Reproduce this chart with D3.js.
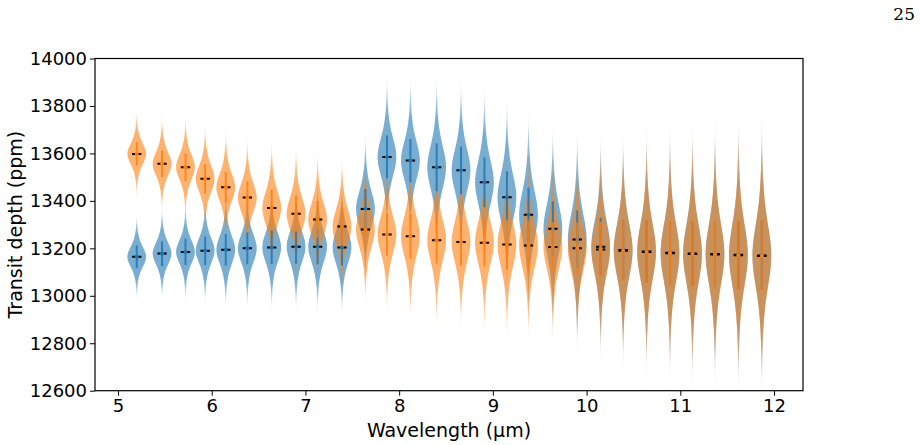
<!DOCTYPE html>
<meta charset="utf-8">
<head>
  <style>
    body { margin: 0; background: #fff; }
    svg { display: block; font-family: "DejaVu Sans", sans-serif; }
  </style>
</head>
<body>
  <svg id="viz" width="921" height="445"></svg>
  <script src="https://d3js.org/d3.v7.min.js"></script>
  <script>
    // wavelength bins (µm)
    var wavelengths = [5.20, 5.47, 5.72, 5.93, 6.15, 6.38, 6.64, 6.90, 7.13, 7.39,
      7.64, 7.87, 8.12, 8.40, 8.66, 8.91, 9.15, 9.38, 9.64, 9.90,
      10.15, 10.39, 10.64, 10.89, 11.13, 11.37, 11.62, 11.87];

    // blue series: median transit depth and 1-sigma (ppm)
    var blueMedian = [13164, 13178, 13185, 13190, 13194, 13200, 13204, 13207, 13207, 13204,
      13366, 13585, 13570, 13542, 13529, 13478, 13415, 13341, 13282, 13237,
      13207, 13193, 13187, 13181, 13178, 13176, 13173, 13170];
    var blueSigma = [48, 52, 55, 60, 66, 67, 70, 72, 74, 76,
      84, 90, 91, 101, 100, 105, 110, 114, 115, 122,
      122, 125, 130, 134, 137, 140, 144, 147];

    // orange series
    var orangeMedian = [13598, 13556, 13542, 13493, 13457, 13414, 13370, 13346, 13322, 13292,
      13279, 13258, 13251, 13234, 13227, 13224, 13216, 13212, 13206, 13200,
      13195, 13190, 13185, 13179, 13176, 13174, 13171, 13168];
    var orangeSigma = [49, 55, 58, 62, 65, 68, 77, 77, 77, 80,
      84, 88, 95, 98, 98, 101, 105, 105, 105, 108,
      118, 126, 134, 137, 140, 143, 148, 151];

    var xTicks = [5, 6, 7, 8, 9, 10, 11, 12];
    var yTicks = [12600, 12800, 13000, 13200, 13400, 13600, 13800, 14000];

    function drawChart() {
      var left = 95, right = 803, plotTop = 58.5, plotBottom = 390.7;
      var violinWidth = 0.2;

      var svg = d3.select('#viz');
      var defs = svg.append('defs');

      var x = d3.scaleLinear().domain([4.7546, 12.309]).range([left, right]);
      var y = d3.scaleLinear().domain([12600, 14000]).range([plotBottom, plotTop]);

      var series = [
        { name: 'blue', color: '#1f77b4', median: blueMedian, sigma: blueSigma },
        { name: 'orange', color: '#ff7f0e', median: orangeMedian, sigma: orangeSigma }
      ];

      defs.append('clipPath').attr('id', 'clip')
        .append('rect')
        .attr('x', left).attr('y', plotTop)
        .attr('width', right - left).attr('height', plotBottom - plotTop);

      // tails of the violins fade out like thin antialiased slivers
      var fadeStops = [[0, 0], [0.1, 0.08], [0.2, 0.45], [0.28, 0.6], [0.72, 0.6], [0.8, 0.45], [0.9, 0.08], [1, 0]];
      series.forEach(function (s) {
        defs.append('linearGradient')
          .attr('id', 'fade-' + s.name)
          .attr('x1', 0).attr('y1', 0).attr('x2', 0).attr('y2', 1)
          .selectAll('stop')
          .data(fadeStops)
          .join('stop')
          .attr('offset', d => d[0])
          .attr('stop-color', s.color)
          .attr('stop-opacity', d => d[1]);
      });

      var plot = svg.append('g').attr('clip-path', 'url(#clip)');

      // heavy-tailed density profile, normalised to 1 at the median
      var nu = 5;
      function profile(z) {
        return Math.pow(1 + z * z / nu, -(nu + 1) / 2);
      }
      var zs = d3.range(-4.4, 4.401, 0.05);

      function violinPath(pos, med, sig) {
        var pts = zs.map(z => ({ v: med + z * sig, w: violinWidth / 2 * profile(z) }));
        return d3.area()
          .y(d => y(d.v))
          .x0(d => x(pos - d.w))
          .x1(d => x(pos + d.w))
          .curve(d3.curveBasis)(pts);
      }

      // violin bodies
      series.forEach(function (s) {
        plot.append('g')
          .selectAll('path')
          .data(wavelengths)
          .join('path')
          .attr('d', (w, i) => violinPath(w, s.median[i], s.sigma[i]))
          .attr('fill', 'url(#fade-' + s.name + ')');
      });

      // median lines
      series.forEach(function (s) {
        plot.append('g')
          .selectAll('line')
          .data(wavelengths)
          .join('line')
          .attr('x1', w => x(w - violinWidth / 4))
          .attr('x2', w => x(w + violinWidth / 4))
          .attr('y1', (w, i) => y(s.median[i]))
          .attr('y2', (w, i) => y(s.median[i]))
          .attr('stroke', '#000')
          .attr('stroke-width', 2);
      });

      // error bars with centre markers
      series.forEach(function (s) {
        var g = plot.append('g');
        g.selectAll('line')
          .data(wavelengths)
          .join('line')
          .attr('x1', w => x(w))
          .attr('x2', w => x(w))
          .attr('y1', (w, i) => y(s.median[i] - s.sigma[i]))
          .attr('y2', (w, i) => y(s.median[i] + s.sigma[i]))
          .attr('stroke', s.color)
          .attr('stroke-opacity', 0.85)
          .attr('stroke-width', 2);
        g.selectAll('circle')
          .data(wavelengths)
          .join('circle')
          .attr('cx', w => x(w))
          .attr('cy', (w, i) => y(s.median[i]))
          .attr('r', 2)
          .attr('fill', s.color);
      });

      // axes
      var xAxis = svg.append('g')
        .attr('transform', 'translate(0,' + plotBottom + ')')
        .call(d3.axisBottom(x).tickValues(xTicks).tickSize(5).tickPadding(4).tickFormat(d3.format('d')));
      var yAxis = svg.append('g')
        .attr('transform', 'translate(' + left + ',0)')
        .call(d3.axisLeft(y).tickValues(yTicks).tickSize(5).tickPadding(3).tickFormat(d3.format('d')));

      [xAxis, yAxis].forEach(function (a) {
        a.select('.domain').remove();
        a.selectAll('.tick line').attr('stroke', '#000').attr('stroke-width', 1);
        a.selectAll('.tick text')
          .attr('fill', '#000')
          .style('font-size', '18px')
          .style('font-family', '"DejaVu Sans", sans-serif');
      });

      // frame
      svg.append('rect')
        .attr('x', left).attr('y', plotTop)
        .attr('width', right - left).attr('height', plotBottom - plotTop)
        .attr('fill', 'none')
        .attr('stroke', '#000')
        .attr('stroke-width', 1.2);

      svg.append('text')
        .attr('x', (left + right) / 2)
        .attr('y', 437)
        .attr('text-anchor', 'middle')
        .style('font-size', '19px')
        .text('Wavelength (µm)');

      svg.append('text')
        .attr('transform', 'translate(22,' + (plotTop + plotBottom) / 2 + ') rotate(-90)')
        .attr('text-anchor', 'middle')
        .style('font-size', '19px')
        .text('Transit depth (ppm)');

      svg.append('text')
        .attr('x', 915)
        .attr('y', 20)
        .attr('text-anchor', 'end')
        .style('font-family', '"DejaVu Serif", serif')
        .style('font-size', '17px')
        .text('25');
    }

    drawChart();
  </script>
</body>
